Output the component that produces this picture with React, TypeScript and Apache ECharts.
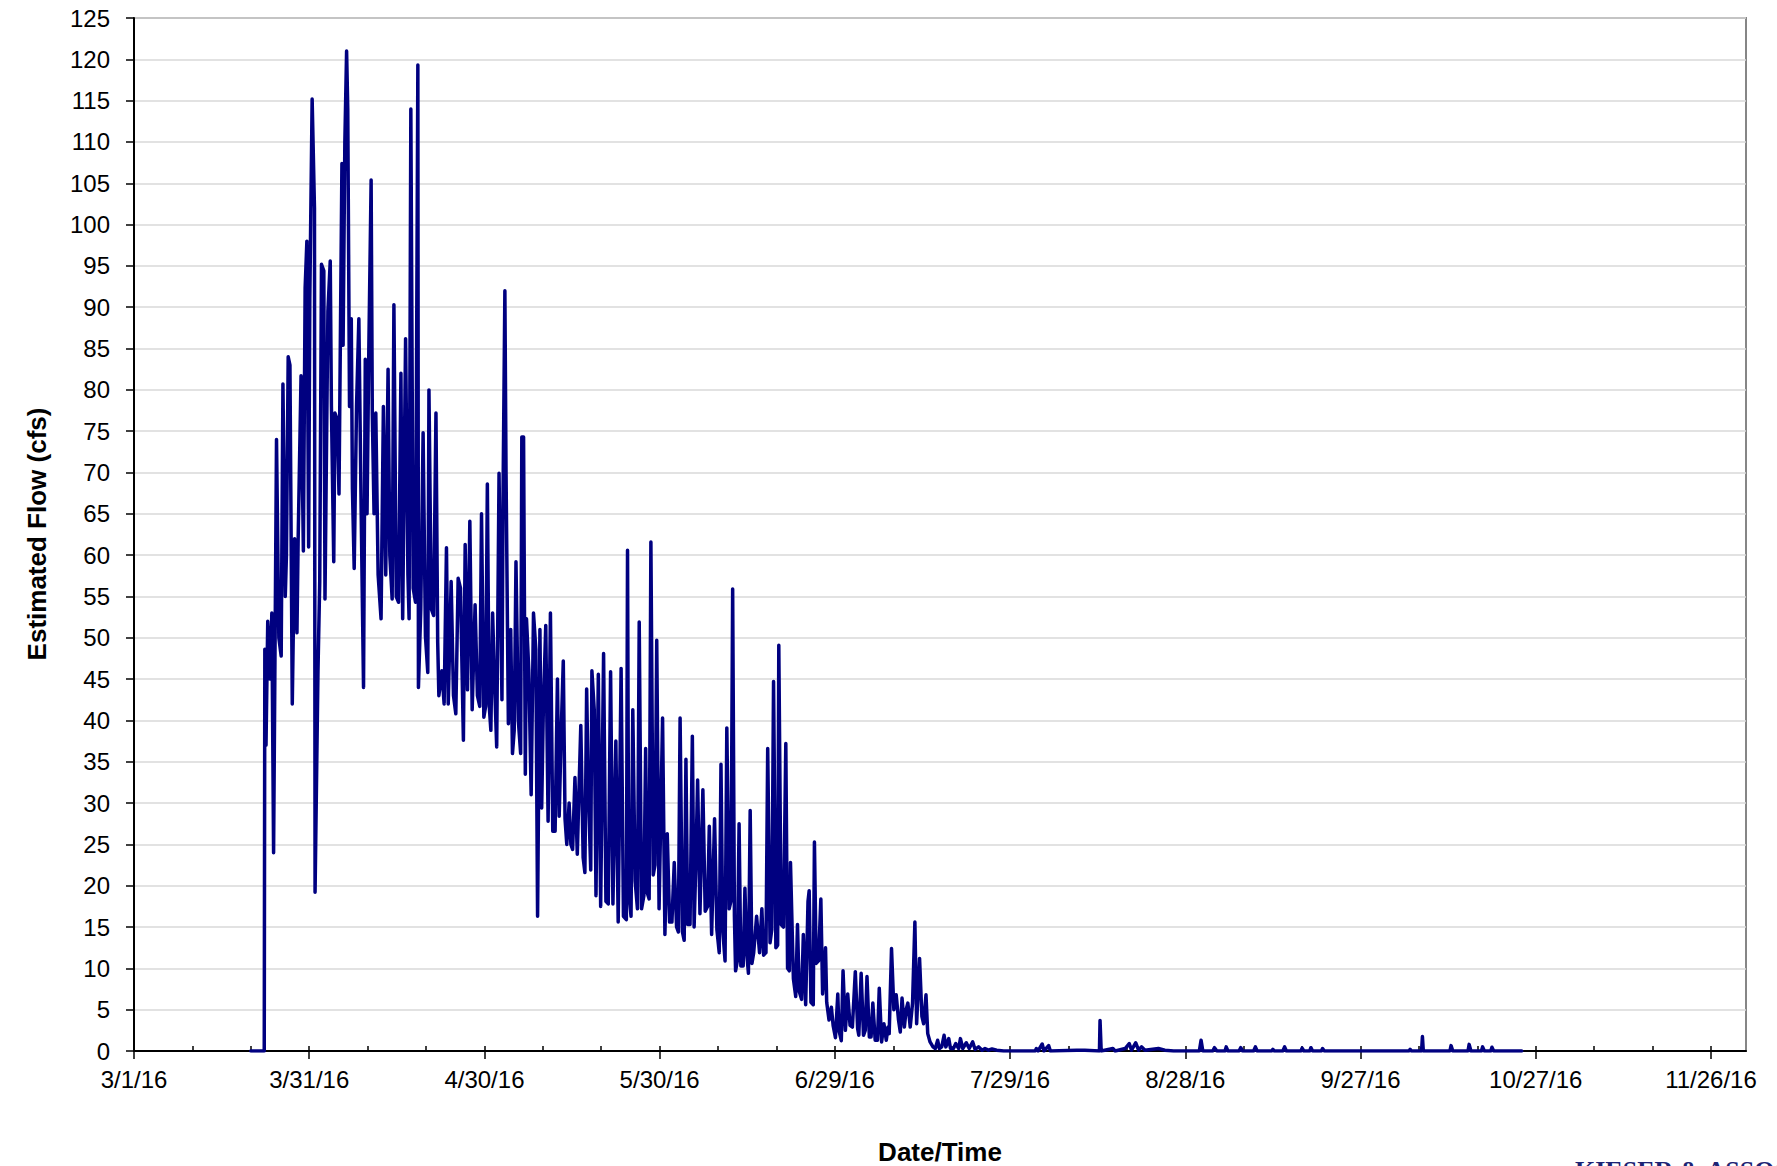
import React, { useEffect, useRef } from "react";
import * as echarts from "echarts";

// Days since 3/1/16 and estimated flow (cfs)
const seg1Days = [20, 22.3, 22.4, 22.6, 22.9, 23.3, 23.6, 23.9, 24.1, 24.4,
  24.8, 25.2, 25.5, 25.9, 26.1, 26.4, 26.7, 27.1, 27.5, 27.9,
  28.1, 28.6, 29.0, 29.3, 29.6, 29.9, 30.1, 30.5, 30.9, 31.0,
  31.5, 31.8, 32.1, 32.5, 32.7, 33.2, 33.6, 33.8, 34.2, 34.4,
  34.8, 35.1, 35.6, 35.8, 36.1, 36.4, 36.6, 36.9, 37.2, 37.4,
  37.7, 38.1, 38.5, 38.9, 39.3, 39.6, 39.9, 40.2, 40.6, 40.8,
  41.1, 41.4, 41.8, 42.3, 42.7, 43.1, 43.5, 43.8, 44.2, 44.5,
  44.9, 45.3, 45.7, 46.0, 46.5, 46.9, 47.1, 47.4, 47.8, 48.2,
  48.6, 48.7, 49.1, 49.5, 49.9, 50.3, 50.5, 50.9, 51.3, 51.7,
  52.0, 52.2, 52.7, 53.1, 53.5, 53.8, 54.3, 54.7, 55.1, 55.5,
  55.9, 56.4, 56.7, 57.1, 57.5, 57.9, 58.4, 58.8, 59.2, 59.5,
  59.9, 60.2, 60.5, 60.8, 61.1, 61.4, 61.7, 62.1, 62.5, 63.0,
  63.2, 63.5, 63.7, 64.1, 64.5, 64.8, 65.1, 65.4, 65.8, 66.2,
  66.4, 66.7, 67.0, 67.2, 67.6, 68.0, 68.4, 68.8, 69.1, 69.5,
  69.8, 70.1, 70.5, 70.9, 71.3, 71.7];
const seg1Flow = [0, 0, 48.6, 37, 52, 45, 53, 24, 44, 74,
  50, 47.8, 80.7, 55, 60, 84, 83, 42, 62, 50.6,
  61.7, 81.7, 60.5, 92.3, 98, 61, 91, 115.2, 102, 19.2,
  46, 56.8, 95.2, 94.4, 54.7, 89.5, 95.6, 78, 59.2, 77.2,
  76.4, 67.4, 107.4, 85.4, 110, 121, 114, 78, 88.6, 68,
  58.4, 78, 88.6, 65, 44, 83.7, 65, 84.6, 105.4, 77.2,
  65, 77.2, 57.6, 52.3, 78, 57.6, 82.5, 60, 54.7, 90.3,
  55, 54.3, 82, 52.3, 86.2, 57.6, 52.3, 114, 56, 54.3,
  119.3, 44, 53.5, 74.8, 50.2, 45.8, 80, 53.5, 52.7, 77.2,
  49.4, 43, 46, 42, 60.9, 42, 56.8, 43, 40.8, 57.2,
  56, 37.6, 61.3, 43.7, 64.1, 41.3, 54, 43, 41.7, 65,
  40.4, 41.7, 68.6, 42, 38.8, 53, 45.3, 36.8, 69.9, 42.5,
  68.2, 92, 69.9, 39.6, 51, 36, 38.8, 59.2, 40, 36,
  74.3, 74.3, 33.5, 52.3, 46, 31, 53, 48.6, 16.3, 51,
  29.4, 42, 51.5, 27.8, 53, 26.6];

const seg2Days = [72.1, 72.5, 72.8, 73.1, 73.5, 73.8, 74.1, 74.5, 74.8, 75.1,
  75.5, 75.9, 76.2, 76.5, 76.9, 77.2, 77.5, 77.8, 78.2, 78.4,
  78.8, 79.1, 79.5, 79.9, 80.4, 80.8, 81.2, 81.6, 82.0, 82.5,
  82.9, 83.4, 83.8, 84.3, 84.5, 84.7, 85.1, 85.4, 85.8, 86.2,
  86.5, 86.9, 87.3, 87.6, 87.9, 88.2, 88.5, 88.9, 89.2, 89.5,
  89.9, 90.5, 90.9, 91.3, 91.7, 92.1, 92.5, 92.9, 93.2, 93.5,
  93.9, 94.2, 94.5, 94.8, 95.2, 95.6, 95.9, 96.2, 96.5, 96.9,
  97.4, 97.8, 98.2, 98.5, 98.9, 99.4, 99.8, 100.2, 100.5, 100.8,
  101.2, 101.5, 101.9, 102.2, 102.5, 102.8, 103.0, 103.3, 103.6, 103.9,
  104.3, 104.6, 104.9, 105.2, 105.5, 105.8, 106.1, 106.6, 107.1, 107.5,
  107.8, 108.2, 108.5, 108.9, 109.2, 109.5, 109.9, 110.2, 110.4, 110.8,
  111.2, 111.6, 111.9, 112.2, 112.4, 112.9, 113.3, 113.6, 113.9, 114.3,
  114.6, 115.0, 115.4, 115.6, 115.9, 116.3, 116.5, 116.8, 117.2, 117.6,
  117.9, 118.4, 118.6, 119.0, 119.4, 119.7, 120.1, 120.5, 120.7, 121.1,
  121.4, 121.8, 122.2, 122.6];
const seg2Flow = [26.6, 45, 28.4, 37.5, 47.2, 28.1, 25, 30, 25, 24.4,
  33.1, 23.8, 31.9, 39.4, 23.4, 21.6, 43.8, 31.3, 21.9, 46,
  41.3, 18.8, 45.6, 17.5, 48.1, 18.1, 17.8, 45.9, 17.8, 37.5,
  15.6, 46.3, 16.3, 15.9, 60.6, 19.4, 16.3, 41.3, 20.6, 17.2,
  51.9, 17.2, 18.8, 36.6, 19.1, 18.4, 61.6, 21.3, 22.5, 49.7,
  17.2, 40.3, 14.1, 26.3, 15.6, 15.6, 22.8, 15, 14.4, 40.3,
  14.4, 13.4, 35.3, 15.3, 15.3, 38.1, 15, 22.8, 32.8, 16.6,
  31.6, 16.9, 17.5, 27.2, 14.1, 28.1, 14.7, 11.9, 34.7, 14.7,
  10.9, 39.1, 17.2, 18.1, 55.9, 16.3, 9.7, 10.9, 27.5, 10.3,
  10.3, 19.7, 11.9, 9.4, 29.1, 10.6, 11.9, 16.3, 11.9, 17.2,
  11.6, 11.9, 36.6, 13.1, 14.7, 44.7, 12.5, 12.8, 49.1, 15.3,
  15, 37.2, 10, 9.7, 22.8, 8.75, 6.6, 15.3, 7.2, 6.25,
  14.1, 5.6, 18.1, 19.4, 5.9, 5.6, 25.3, 10.6, 10.9, 18.4,
  6.9, 12.5, 5.9, 3.75, 5.3, 3.1, 1.6, 6.9, 2.5, 1.25,
  9.7, 2.5, 6.9, 3.1];

const seg3Days = [123.0, 123.5, 123.9, 124.1, 124.5, 124.9, 125.2, 125.5, 125.9, 126.2,
  126.5, 126.9, 127.3, 127.6, 128.0, 128.4, 128.8, 129.1, 129.3, 129.7,
  130.1, 130.5, 130.9, 131.2, 131.5, 131.9, 132.2, 132.5, 132.9, 133.3,
  133.7, 134.0, 134.5, 134.9, 135.2, 135.6, 135.9, 136.3, 136.8, 137.2,
  137.6, 137.9, 138.3, 138.7, 139.0, 139.5, 139.8, 140.3, 140.7, 141.2,
  141.5, 141.9, 142.5, 143.0, 143.6, 144.0, 144.6, 145.2, 145.7, 146.3,
  146.9, 147.7, 148.9, 154.3, 154.5, 154.8, 155.5, 155.8, 156.6, 156.9,
  161.4, 162.8, 165.3, 165.4, 165.6, 167.6, 168.0, 169.7, 170.4, 170.8,
  171.5, 172.0, 172.5, 173.1, 175.4];
const seg3Flow = [2.9, 9.6, 2.7, 1.9, 9.4, 1.9, 2.5, 9, 1.7, 1.7,
  5.8, 1.3, 1.3, 7.6, 1.1, 3.3, 1.3, 2.9, 2.1, 12.4,
  5, 6.8, 3.75, 2.3, 6.4, 2.9, 5, 5.8, 2.9, 5.8,
  15.6, 3.3, 11.2, 4.2, 3.3, 6.8, 2.1, 1.1, 0.5, 0.3,
  1.3, 0.3, 0.5, 1.9, 0.5, 1.5, 0.3, 0.3, 0.9, 0.3,
  1.5, 0.3, 1.0, 0.3, 1.1, 0.2, 0.5, 0.1, 0.3, 0.1,
  0.25, 0.1, 0, 0, 0.3, 0, 0.85, 0, 0.65, 0,
  0.1, 0.1, 0, 3.7, 0, 0.3, 0, 0.3, 0.9, 0.1,
  1.0, 0.1, 0.5, 0.1, 0.3];

const seg4Days = [176.5, 178, 182.4, 182.7, 183.0, 184.7, 185, 185.4, 186.8, 187,
  187.3, 189.2, 189.5, 189.8, 191.7, 192, 192.3, 194.8, 195, 195.2,
  196.7, 197, 197.3, 199.8, 200, 200.3, 201.3, 201.5, 201.8, 203.3,
  203.5, 203.8, 218.3, 218.5, 218.7, 220.45, 220.6, 220.75, 225.3, 225.5,
  225.8, 228.4, 228.6, 228.9, 230.7, 230.9, 231.2, 232.3, 232.5, 232.8,
  237.6];
const seg4Flow = [0.1, 0, 0, 1.3, 0, 0, 0.4, 0, 0, 0.5,
  0, 0, 0.4, 0, 0, 0.5, 0, 0, 0.2, 0,
  0, 0.5, 0, 0, 0.35, 0, 0, 0.4, 0, 0,
  0.3, 0, 0, 0.2, 0, 0, 1.75, 0, 0, 0.65,
  0, 0, 0.8, 0, 0, 0.5, 0, 0, 0.45, 0,
  0];

const majorTickDays = [0, 30, 60, 90, 120, 150, 180, 210, 240, 270];
const minorTickDays = [0, 10, 20, 30, 40, 50, 60, 70, 80, 90, 100, 110, 120, 130,
  140, 150, 160, 170, 180, 190, 200, 210, 220, 230, 240, 250, 260, 270];

const FONT = 'Arial, "Liberation Sans", sans-serif';

function fmtDate(v: number): string {
  const dt = new Date(2016, 2, 1 + Math.round(v));
  return `${dt.getMonth() + 1}/${dt.getDate()}/${dt.getFullYear() % 100}`;
}

export default function App() {
  const ref = useRef<HTMLDivElement>(null);
  useEffect(() => {
    const chart = echarts.init(ref.current!, null, { renderer: "svg" });
    const days = [...seg1Days, ...seg2Days, ...seg3Days, ...seg4Days];
    const flows = [...seg1Flow, ...seg2Flow, ...seg3Flow, ...seg4Flow];
    const data = days.map((d, i) => [d, flows[i]]);
    chart.setOption({
      animation: false,
      backgroundColor: "#ffffff",
      grid: {
        left: 134, right: 31, top: 18, bottom: 115,
        show: true, borderColor: "#868686", borderWidth: 2,
      },
      xAxis: [
        {
          type: "value", min: 0, max: 276, position: "bottom",
          axisLine: { show: true, onZero: false, lineStyle: { color: "#000", width: 2 } },
          axisTick: { show: true, inside: false, length: 8, customValues: majorTickDays, lineStyle: { color: "#000", width: 1.5 } },
          axisLabel: { show: true, customValues: majorTickDays, formatter: fmtDate, fontSize: 24, color: "#000", fontFamily: FONT, margin: 16 },
          splitLine: { show: false },
        },
        {
          type: "value", min: 0, max: 276, position: "bottom",
          axisLine: { show: false },
          axisTick: { show: true, inside: true, length: 5, customValues: minorTickDays, lineStyle: { color: "#000", width: 1.5 } },
          axisLabel: { show: false },
          splitLine: { show: false },
        },
      ],
      yAxis: {
        type: "value", min: 0, max: 125, interval: 5,
        axisLine: { show: true, lineStyle: { color: "#000", width: 2 } },
        axisTick: { show: true, inside: false, length: 8, lineStyle: { color: "#000", width: 1.5 } },
        axisLabel: { fontSize: 24, color: "#000", fontFamily: FONT, margin: 24 },
        splitLine: { show: true, lineStyle: { color: "#d9d9d9", width: 1.5 } },
      },
      series: [
        {
          type: "line", xAxisIndex: 0, data, showSymbol: false, symbol: "none",
          lineStyle: { color: "#000080", width: 3.5, cap: "round", join: "round" },
        },
      ],
      graphic: [
        {
          type: "text", x: 37, y: 534, rotation: Math.PI / 2,
          style: { text: "Estimated Flow (cfs)", font: `bold 26px ${FONT}`, fill: "#000", align: "center", verticalAlign: "middle", textAlign: "center", textVerticalAlign: "middle" },
        },
        {
          type: "text", x: 940, y: 1152,
          style: { text: "Date/Time", font: `bold 26px ${FONT}`, fill: "#000", align: "center", verticalAlign: "middle", textAlign: "center", textVerticalAlign: "middle" },
        },
        {
          type: "text", x: 1575, y: 1157,
          style: { text: "KIESER & ASSOCIATES", font: 'bold 26px "Liberation Serif", serif', fill: "#1c2474", align: "left", verticalAlign: "top", textAlign: "left", textVerticalAlign: "top" },
        },
      ],
    });
    return () => chart.dispose();
  }, []);
  return (
    <div
      ref={ref}
      style={{ position: "absolute", left: 0, top: 0, width: 1777, height: 1166, background: "#fff" }}
    />
  );
}
